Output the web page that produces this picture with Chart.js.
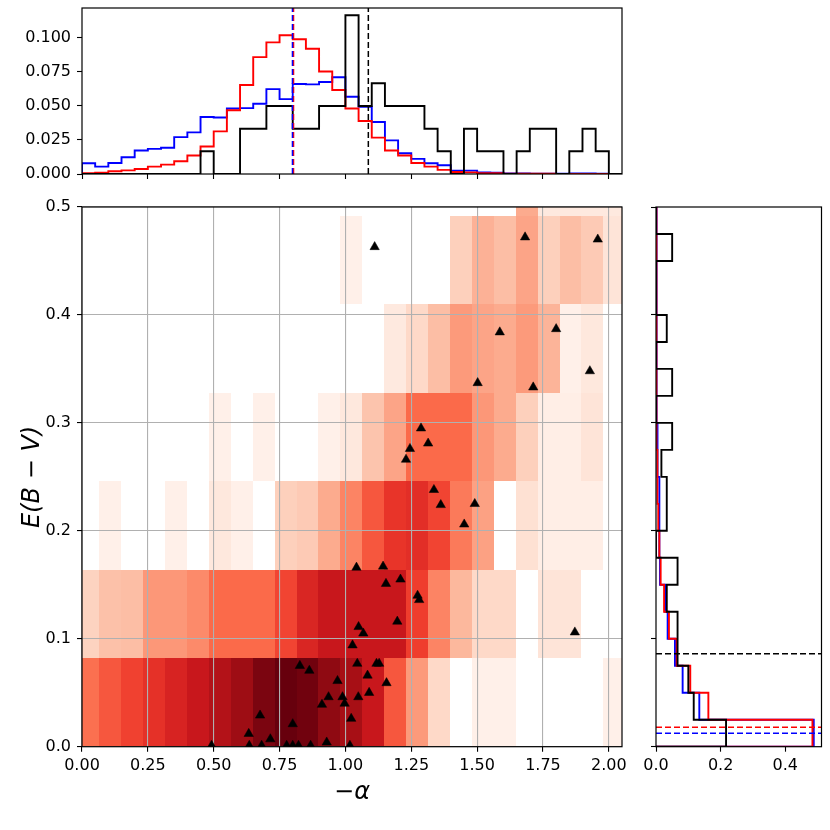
<!DOCTYPE html>
<html>
<head>
<meta charset="utf-8">
<script src="https://cdn.jsdelivr.net/npm/chart.js@4.4.0/dist/chart.umd.min.js"></script>
<style>
  body { margin: 0; background: #fff; }
  #wrap { position: relative; width: 830px; height: 830px; }
  canvas { position: absolute; }
</style>
</head>
<body>
<div id="wrap">
  <canvas id="topHist" width="640" height="195" style="left:0;top:0"></canvas>
  <canvas id="mainChart" width="640" height="635" style="left:0;top:195px"></canvas>
  <canvas id="sideHist" width="190" height="635" style="left:640px;top:195px"></canvas>
</div>
<script>
// ---- top panel: -alpha distributions (bins of 0.05)
const alphaEdges = [0, 0.05, 0.1, 0.15, 0.2, 0.25, 0.3, 0.35, 0.4, 0.45, 0.5, 0.55, 0.6, 0.65, 0.7,
  0.75, 0.8, 0.85, 0.9, 0.95, 1.0, 1.05, 1.1, 1.15, 1.2, 1.25, 1.3, 1.35, 1.4, 1.45, 1.5, 1.55,
  1.6, 1.65, 1.7, 1.75, 1.8, 1.85, 1.9, 1.95, 2.0, 2.05];
const alphaBlue = [0.0079, 0.0054, 0.0081, 0.0123, 0.0173, 0.0185, 0.0193, 0.0271, 0.0306, 0.0419,
  0.0415, 0.0481, 0.0484, 0.0516, 0.0624, 0.0550, 0.0661, 0.0659, 0.0676, 0.0711,
  0.0568, 0.0494, 0.0382, 0.0247, 0.0153, 0.0111, 0.0079, 0.0064, 0.0025, 0.0025,
  0.0012, 0.0010, 0.0004, 0.0004, 0.0003, 0.0003, 0.0003, 0.0004, 0.0004, 0.0002, 0.0001];
const alphaRed = [0.0005, 0.0010, 0.0020, 0.0027, 0.0037, 0.0054, 0.0069, 0.0094, 0.0136, 0.0202,
  0.0313, 0.0469, 0.0654, 0.0859, 0.0967, 0.1020, 0.0990, 0.0920, 0.0753, 0.0617,
  0.0481, 0.0390, 0.0267, 0.0173, 0.0136, 0.0081, 0.0054, 0.0030, 0.0015, 0.0012,
  0.0006, 0.0005, 0.0003, 0.0002, 0.0002, 0.0002, 0.0001, 0.0001, 0.0001, 0.0001, 0.0001];
const alphaBlack = [0, 0, 0, 0, 0, 0, 0, 0, 0, 0.0167,
  0, 0, 0.0333, 0.0333, 0.05, 0.05, 0.0333, 0.0333, 0.05, 0.05,
  0.1167, 0.05, 0.0667, 0.05, 0.05, 0.05, 0.0333, 0.0167, 0, 0.0333,
  0.0167, 0.0167, 0, 0.0167, 0.0333, 0.0333, 0, 0.0167, 0.0333, 0.0167, 0];
const alphaLines = [1.087, 0.799, 0.803];     // black, blue, red

// ---- side panel: E(B-V) distributions (bins of 0.025)
const ebvEdges = [0, 0.025, 0.05, 0.075, 0.1, 0.125, 0.15, 0.175, 0.2, 0.225, 0.25,
  0.275, 0.3, 0.325, 0.35, 0.375, 0.4, 0.425, 0.45, 0.475, 0.5];
const ebvBlack = [0.2167, 0.1167, 0.1000, 0.0667, 0.0667, 0.0333, 0.0667, 0, 0.0333, 0.0333,
  0.0167, 0.05, 0, 0.05, 0, 0.0333, 0, 0, 0.05, 0];
const ebvRed = [0.484, 0.162, 0.106, 0.064, 0.040, 0.025, 0.0144, 0.0103, 0.007, 0.005,
  0.004, 0.003, 0.0025, 0.002, 0.002, 0.0015, 0.001, 0.001, 0.001, 0.0005];
const ebvBlue = [0.488, 0.134, 0.0824, 0.0587, 0.036, 0.028, 0.0124, 0.012, 0.010, 0.010,
  0.006, 0.004, 0.003, 0.003, 0.003, 0.002, 0.002, 0.0015, 0.001, 0.001];
const ebvLines = [0.086, 0.0124, 0.018];      // black, blue, red

// ---- main panel: 2D density (Reds levels 0..1), rows from E(B-V)=0 upward
const cellXEdges = [-0.0175, 0.0657, 0.1489, 0.2321, 0.3153, 0.3985, 0.4817, 0.5649, 0.6481,
  0.7313, 0.8145, 0.8977, 0.9809, 1.0641, 1.1473, 1.2305, 1.3137, 1.3969, 1.4801, 1.5633,
  1.6465, 1.7297, 1.8129, 1.8961, 1.9793, 2.0625];
const cellYEdges = [0, 0.082, 0.164, 0.246, 0.328, 0.41, 0.492, 0.574];
const cellLevels = [
  [0.48, 0.55, 0.61, 0.66, 0.71, 0.76, 0.83, 0.89, 0.96, 1.00, 0.98, 0.92, 0.87, 0.76, 0.55, 0.35, 0.15, 0, 0.03, 0.03, 0, 0, 0, 0, 0.03],
  [0.17, 0.23, 0.24, 0.36, 0.36, 0.40, 0.50, 0.50, 0.50, 0.60, 0.70, 0.76, 0.76, 0.76, 0.76, 0.62, 0.42, 0.26, 0.15, 0.15, 0, 0.10, 0.10, 0, 0],
  [0, 0.03, 0, 0, 0.03, 0, 0.08, 0.03, 0, 0.18, 0.20, 0.30, 0.42, 0.55, 0.65, 0.67, 0.60, 0.45, 0.33, 0, 0.12, 0.04, 0.04, 0.04, 0],
  [0, 0, 0, 0, 0, 0, 0.03, 0, 0.03, 0, 0, 0.03, 0.08, 0.22, 0.32, 0.50, 0.50, 0.50, 0.36, 0.30, 0.18, 0.04, 0.04, 0.10, 0],
  [0, 0, 0, 0, 0, 0, 0, 0, 0, 0, 0, 0, 0, 0, 0.07, 0.15, 0.24, 0.35, 0.32, 0.30, 0.35, 0.27, 0.03, 0.08, 0],
  [0, 0, 0, 0, 0, 0, 0, 0, 0, 0, 0, 0, 0.03, 0, 0, 0, 0, 0.18, 0.28, 0.24, 0.32, 0.18, 0.24, 0.20, 0.10],
  [0, 0, 0, 0, 0, 0, 0, 0, 0, 0, 0, 0, 0, 0, 0, 0, 0, 0, 0, 0, 0.30, 0.07, 0.07, 0.07, 0.07]
];

// observed sources
const ptAlpha = [1.111, 1.682, 1.958, 1.586, 1.800, 1.928, 1.502, 1.713, 1.287, 1.245, 1.314, 1.230,
  1.336, 1.362, 1.491, 1.451, 1.042, 1.143, 1.209, 1.154, 1.274, 1.280, 1.050, 1.197, 1.068, 1.871,
  1.027, 1.045, 1.118, 1.128, 1.084, 1.156, 0.970, 1.090, 0.989, 1.049, 0.936, 0.997, 1.022, 0.827,
  0.863, 0.911, 0.676, 0.800, 0.633, 0.715, 0.929, 0.492, 0.635, 0.682, 0.777, 0.800, 0.822, 0.868, 1.017];
const ptEbv = [0.463, 0.472, 0.470, 0.384, 0.387, 0.348, 0.337, 0.333, 0.295, 0.276, 0.281, 0.266,
  0.238, 0.224, 0.225, 0.206, 0.166, 0.167, 0.155, 0.151, 0.140, 0.136, 0.111, 0.116, 0.105, 0.106,
  0.094, 0.077, 0.077, 0.077, 0.066, 0.059, 0.061, 0.050, 0.046, 0.046, 0.046, 0.040, 0.026, 0.075,
  0.0705, 0.039, 0.029, 0.021, 0.012, 0.007, 0.004, 0.001, 0.001, 0.001, 0.001, 0.001, 0.001, 0.001, 0.001];

const alphaTicks = [0, 0.25, 0.5, 0.75, 1.0, 1.25, 1.5, 1.75, 2.0];
const ebvTicks = [0, 0.1, 0.2, 0.3, 0.4, 0.5];
const topFracTicks = [0, 0.025, 0.05, 0.075, 0.1];
const sideFracTicks = [0, 0.2, 0.4];

const ALPHA_MAX = 2.05, EBV_MAX = 0.5, TOP_MAX = 0.122, SIDE_MAX = 0.512;
const lineColors = ['#000000', '#0000ff', '#ff0000'];

Chart.defaults.font.family = "'DejaVu Sans', sans-serif";
Chart.defaults.font.size = 16;
Chart.defaults.color = '#000';
Chart.defaults.animation = false;

const redsStops = [[255,245,240],[254,224,210],[252,187,161],[252,146,114],[251,106,74],
  [239,59,44],[203,24,29],[165,15,21],[103,0,13]];
function redsColor(t) {
  const p = Math.max(0, Math.min(1, t)) * (redsStops.length - 1);
  const i = Math.min(Math.floor(p), redsStops.length - 2);
  const f = p - i;
  const c = redsStops[i].map((v, k) => Math.round(v + (redsStops[i + 1][k] - v) * f));
  return 'rgb(' + c.join(',') + ')';
}

const framePlugin = {
  id: 'frame',
  afterDraw(chart) {
    const a = chart.chartArea, ctx = chart.ctx;
    ctx.save();
    ctx.strokeStyle = '#000';
    ctx.lineWidth = 1.2;
    ctx.strokeRect(a.left, a.top, a.right - a.left, a.bottom - a.top);
    ctx.restore();
  }
};

const heatmapPlugin = {
  id: 'heatmap',
  beforeDraw(chart) {
    const {ctx, chartArea: a, scales: {x, y}} = chart;
    ctx.save();
    ctx.beginPath();
    ctx.rect(a.left, a.top, a.right - a.left, a.bottom - a.top);
    ctx.clip();
    cellLevels.forEach((row, r) => {
      row.forEach((lv, c) => {
        if (lv <= 0) return;
        const x0 = Math.round(x.getPixelForValue(cellXEdges[c]));
        const x1 = Math.round(x.getPixelForValue(cellXEdges[c + 1]));
        const y0 = Math.round(y.getPixelForValue(cellYEdges[r]));
        const y1 = Math.round(y.getPixelForValue(cellYEdges[r + 1]));
        ctx.fillStyle = redsColor(lv);
        ctx.fillRect(x0, y1, x1 - x0, y0 - y1);
      });
    });
    ctx.restore();
  }
};

// outline of a step histogram along x
function stepAlongX(edges, vals) {
  const pts = [{x: edges[0], y: 0}];
  vals.forEach((v, i) => { pts.push({x: edges[i], y: v}); pts.push({x: edges[i + 1], y: v}); });
  pts.push({x: edges[edges.length - 1], y: 0});
  return pts;
}
// outline of a step histogram along y (horizontal bars)
function stepAlongY(edges, vals) {
  const pts = [{x: 0, y: edges[0]}];
  vals.forEach((v, i) => { pts.push({x: v, y: edges[i]}); pts.push({x: v, y: edges[i + 1]}); });
  pts.push({x: 0, y: edges[edges.length - 1]});
  return pts;
}

function histLine(data, color, order) {
  return { data: data, showLine: true, borderColor: color, borderWidth: 1.9, pointRadius: 0,
    borderJoinStyle: 'miter', fill: false, order: order, clip: 0 };
}
function dashLine(data, color) {
  return { data: data, showLine: true, borderColor: color, borderWidth: 1.5, borderDash: [6, 3],
    pointRadius: 0, fill: false, order: 0 };
}

function fixedTicks(list) {
  return s => { s.ticks = list.map(v => ({value: v})); };
}
// fix the axis box size and drop the label overhang padding
function fixHeight(h) {
  return s => { s.height = h; s.paddingLeft = 0; s.paddingRight = 0; s.paddingTop = 0; s.paddingBottom = 0; };
}
function fixWidth(w) {
  return s => { s.width = w; s.paddingLeft = 0; s.paddingRight = 0; s.paddingTop = 0; s.paddingBottom = 0; };
}

const noLabelTicks = { display: false };
const tickMarksOnly = { drawOnChartArea: false, tickColor: '#000', tickWidth: 1.1, tickLength: 5 };

// ---- top histogram
new Chart(document.getElementById('topHist'), {
  type: 'scatter',
  data: {
    datasets: [
      histLine(stepAlongX(alphaEdges, alphaBlue), lineColors[1], 3),
      histLine(stepAlongX(alphaEdges, alphaRed), lineColors[2], 2),
      histLine(stepAlongX(alphaEdges, alphaBlack), lineColors[0], 1),
      ...alphaLines.map((v, i) => dashLine([{x: v, y: 0}, {x: v, y: TOP_MAX}], lineColors[i]))
    ]
  },
  options: {
    responsive: false,
    layout: { padding: { top: 8, right: 18, left: 0, bottom: 0 } },
    plugins: { legend: { display: false }, tooltip: { enabled: false } },
    scales: {
      x: {
        type: 'linear', min: 0, max: ALPHA_MAX,
        afterBuildTicks: fixedTicks(alphaTicks),
        afterFit: fixHeight(21),
        ticks: noLabelTicks,
        grid: tickMarksOnly,
        border: { display: false }
      },
      y: {
        type: 'linear', min: 0, max: TOP_MAX,
        afterBuildTicks: fixedTicks(topFracTicks),
        afterFit: fixWidth(82),
        ticks: { padding: 6, callback: v => v.toFixed(3) },
        grid: tickMarksOnly,
        border: { display: false }
      }
    }
  },
  plugins: [framePlugin]
});

// ---- main 2D panel
new Chart(document.getElementById('mainChart'), {
  type: 'scatter',
  data: {
    datasets: [{
      data: ptAlpha.map((a, i) => ({x: a, y: ptEbv[i]})),
      pointStyle: 'triangle',
      pointRadius: 5.4,
      backgroundColor: '#000',
      borderColor: '#000',
      borderWidth: 0.5,
      clip: 0
    }]
  },
  options: {
    responsive: false,
    layout: { padding: { top: 12, right: 18, left: 0, bottom: 0 } },
    plugins: { legend: { display: false }, tooltip: { enabled: false } },
    scales: {
      x: {
        type: 'linear', min: 0, max: ALPHA_MAX,
        afterBuildTicks: fixedTicks(alphaTicks),
        afterFit: fixHeight(83.3),
        ticks: { padding: 5, maxRotation: 0, autoSkip: false, callback: v => v.toFixed(2) },
        grid: { color: '#b0b0b0', lineWidth: 1.1, tickColor: '#000', tickLength: 5 },
        border: { display: false },
        title: { display: true, text: '\u2212\u03b1', font: { size: 24, style: 'italic' },
          padding: { top: 0, bottom: 23 } }
      },
      y: {
        type: 'linear', min: 0, max: EBV_MAX,
        afterBuildTicks: fixedTicks(ebvTicks),
        afterFit: fixWidth(82),
        ticks: { padding: 6, callback: v => v.toFixed(1) },
        grid: { color: '#b0b0b0', lineWidth: 1.1, tickColor: '#000', tickLength: 5 },
        border: { display: false },
        title: { display: true, text: 'E(B \u2212 V)', font: { size: 24, style: 'italic' },
          padding: { top: 18, bottom: 0 } }
      }
    }
  },
  plugins: [heatmapPlugin, framePlugin]
});

// ---- side histogram
new Chart(document.getElementById('sideHist'), {
  type: 'scatter',
  data: {
    datasets: [
      histLine(stepAlongY(ebvEdges, ebvBlue), lineColors[1], 3),
      histLine(stepAlongY(ebvEdges, ebvRed), lineColors[2], 2),
      histLine(stepAlongY(ebvEdges, ebvBlack), lineColors[0], 1),
      ...ebvLines.map((v, i) => dashLine([{x: 0, y: v}, {x: SIDE_MAX, y: v}], lineColors[i]))
    ]
  },
  options: {
    responsive: false,
    layout: { padding: { top: 12, right: 8.5, left: 0, bottom: 0 } },
    plugins: { legend: { display: false }, tooltip: { enabled: false } },
    scales: {
      x: {
        type: 'linear', min: 0, max: SIDE_MAX,
        afterBuildTicks: fixedTicks(sideFracTicks),
        afterFit: fixHeight(83.3),
        ticks: { padding: 5, maxRotation: 0, callback: v => v.toFixed(1) },
        grid: tickMarksOnly,
        border: { display: false }
      },
      y: {
        type: 'linear', min: 0, max: EBV_MAX,
        afterBuildTicks: fixedTicks(ebvTicks),
        afterFit: fixWidth(16),
        ticks: noLabelTicks,
        grid: tickMarksOnly,
        border: { display: false }
      }
    }
  },
  plugins: [framePlugin]
});
</script>
</body>
</html>
